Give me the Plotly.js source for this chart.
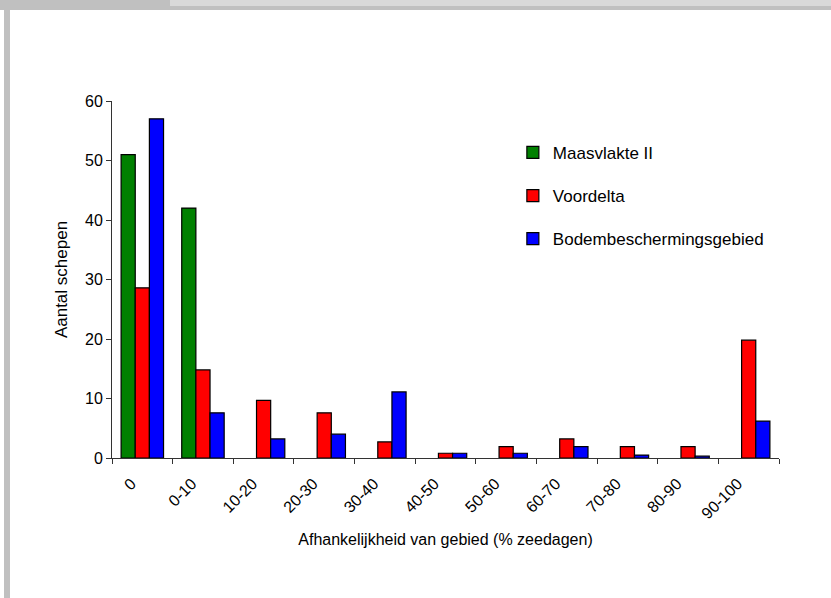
<!DOCTYPE html>
<html>
<head>
<meta charset="utf-8">
<script src="https://cdn.plot.ly/plotly-3.0.1.min.js"></script>
<style>
  html, body { margin: 0; padding: 0; background: #ffffff; }
  #wrap { position: relative; width: 831px; height: 598px; overflow: hidden; }
  #chart { position: absolute; left: 0; top: 0; width: 831px; height: 598px; }
  .frame { position: absolute; pointer-events: none; }
</style>
</head>
<body>
<div id="wrap">
  <div id="chart"></div>
  <div class="frame" style="left:0;top:0;width:831px;height:10px;background:#c0c0c0;"></div>
  <div class="frame" style="left:170px;top:0;width:661px;height:6px;background:#d9d9d9;"></div>
  <div class="frame" style="left:4px;top:0;width:6px;height:598px;background:#c0c0c0;"></div>
</div>
<script>
const categories = ["0", "0-10", "10-20", "20-30", "30-40", "40-50", "50-60", "60-70", "70-80", "80-90", "90-100"];
const maasvlakte = [51, 42, 0, 0, 0, 0, 0, 0, 0, 0, 0];
const voordelta = [28.6, 14.8, 9.7, 7.6, 2.7, 0.8, 1.9, 3.2, 1.9, 1.9, 19.8];
const bodembescherming = [57, 7.6, 3.2, 4.0, 11.1, 0.8, 0.8, 1.9, 0.5, 0.3, 6.2];
const seriesNames = ["Maasvlakte II", "Voordelta", "Bodembeschermingsgebied"];
const seriesColors = ["#008000", "#ff0000", "#0000ff"];

const FONT = "Liberation Sans, Arial, sans-serif";
const allSeries = [maasvlakte, voordelta, bodembescherming];
const traces = allSeries.map((vals, i) => ({
  type: "bar",
  x: categories,
  y: vals,
  name: seriesNames[i],
  legendgroup: "g" + i,
  marker: {
    color: seriesColors[i],
    line: { color: "#000000", width: vals.map(v => (v > 0 ? 1.2 : 0)) }
  },
  hoverinfo: "x+y+name"
}));

const layout = {
  width: 831,
  height: 598,
  paper_bgcolor: "#ffffff",
  plot_bgcolor: "#ffffff",
  margin: { l: 112, r: 52, t: 101, b: 140, pad: 0 },
  barmode: "group",
  bargap: 0.3,
  bargroupgap: 0,
  font: { family: FONT, size: 16, color: "#000000" },
  showlegend: true,
  legend: {
    x: 0.601, xanchor: "left",
    y: 0.905, yanchor: "top",
    bgcolor: "rgba(0,0,0,0)",
    font: { family: FONT, size: 17, color: "#000000" },
    tracegroupgap: 18,
    traceorder: "grouped"
  },
  xaxis: {
    type: "category",
    tickangle: -45,
    tickson: "boundaries",
    ticks: "outside",
    ticklen: 5,
    tickcolor: "#333333",
    showline: true,
    linecolor: "#333333",
    linewidth: 1,
    showgrid: false,
    zeroline: false,
    ticklabelshift: -11,
    ticklabelstandoff: 9,
    tickfont: { family: FONT, size: 16, color: "#000000" },
    title: { text: "Afhankelijkheid van gebied (% zeedagen)", font: { family: FONT, size: 16, color: "#000000" }, standoff: 12 }
  },
  yaxis: {
    range: [0, 60],
    dtick: 10,
    ticks: "outside",
    ticklen: 5,
    tickcolor: "#333333",
    showline: true,
    linecolor: "#333333",
    linewidth: 1,
    showgrid: false,
    zeroline: false,
    tickfont: { family: FONT, size: 16, color: "#000000" },
    title: { text: "Aantal schepen", font: { family: FONT, size: 17, color: "#000000" }, standoff: 13 }
  }
};

Plotly.newPlot("chart", traces, layout, { staticPlot: true, displayModeBar: false });
</script>
</body>
</html>
